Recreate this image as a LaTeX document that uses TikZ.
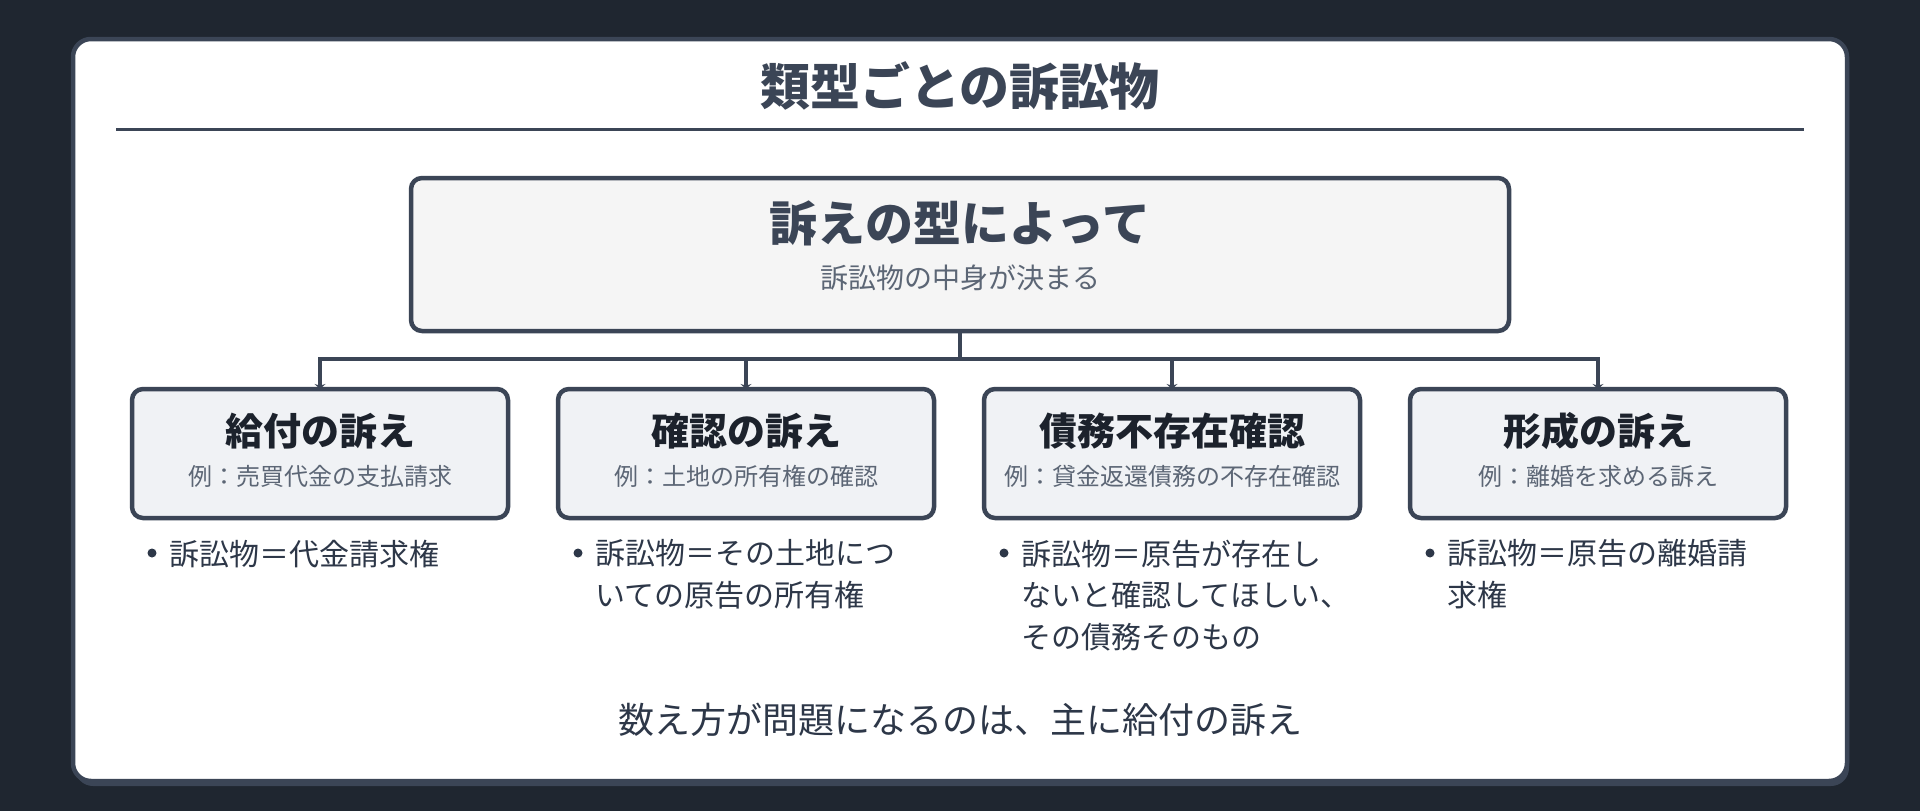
\documentclass[tikz,border=0pt]{standalone}
\usepackage{fontspec}
\setmainfont{Noto Sans CJK JP}
\usepackage{tikz}
\usetikzlibrary{positioning, calc, arrows.meta}
\usepackage{xcolor}
\definecolor{bgdark}{HTML}{1F2630}
\definecolor{frame}{HTML}{3B4556}
\definecolor{ink}{HTML}{2D3748}
\definecolor{inkdark}{HTML}{1C222C}
\definecolor{inksub}{HTML}{5C6675}
\definecolor{rootfill}{HTML}{F5F5F5}
\definecolor{typefill}{HTML}{F0F2F5}

\begin{document}
\begin{tikzpicture} [x=1pt, y=-1pt, node distance = 0pt and 50pt,
    rootbox/.style={draw=frame, line width=4.5pt, fill=rootfill, rounded corners=11pt, minimum width=1098pt, minimum height=153pt, inner sep=0pt, outer sep=0pt},
    typebox/.style={draw=frame, line width=4.5pt, fill=typefill, rounded corners=11pt, minimum width=376pt, minimum height=129pt, inner sep=0pt, outer sep=0pt},
    typetitle/.style={font=\bfseries\fontsize{38}{44}\selectfont, text=inkdark, inner sep=0pt},
    typeexample/.style={font=\fontsize{24}{30}\selectfont, text=inksub, inner sep=0pt},
    note/.style={anchor=north west, inner sep=0pt, align=left, font=\fontsize{30}{41.6}\selectfont, text=ink},
    dot/.style={circle, fill=ink, inner sep=0pt, minimum size=9pt},
    arrow/.style={-{Stealth[length=5pt, width=11pt]}, line width=4pt, draw=frame}]
        \useasboundingbox[fill=bgdark] (0,0) rectangle (1920,811);
        % Card
        \fill[frame, rounded corners=18pt] (75,44) rectangle (1849,786);
        \draw[frame, fill=white, line width=4.5pt, rounded corners=18pt] (73,39) rectangle (1847,781);
        \node[font=\bfseries\fontsize{50}{60}\selectfont, text=frame, inner sep=0pt] (title) at (960,86) {類型ごとの訴訟物};
        \draw[frame, line width=3pt] (116,129) -- (1804,129);

        % Nodes
        \node[rootbox] (root) at (960,254.5) {};
        \node[font=\bfseries\fontsize{48}{56}\selectfont, text=frame, inner sep=0pt] (rootmain) at (960,223) {訴えの型によって};
        \node[font=\fontsize{28}{34}\selectfont, text=inksub, inner sep=0pt] (rootsub) at (960,278) {訴訟物の中身が決まる};

        \node[typebox] (give) at (320,453.5) {};
        \node[typebox, right=of give] (confirm) {};
        \node[typebox, right=of confirm] (debt) {};
        \node[typebox, right=of debt] (form) {};

        \node[typetitle] (givetitle) at ([yshift=22.5pt]give) {給付の訴え};
        \node[typeexample] (giveex) at ([yshift=-22.5pt]give) {例：売買代金の支払請求};
        \node[typetitle] (confirmtitle) at ([yshift=22.5pt]confirm) {確認の訴え};
        \node[typeexample] (confirmex) at ([yshift=-22.5pt]confirm) {例：土地の所有権の確認};
        \node[typetitle] (debttitle) at ([yshift=22.5pt]debt) {債務不存在確認};
        \node[typeexample] (debtex) at ([yshift=-22.5pt]debt) {例：貸金返還債務の不存在確認};
        \node[typetitle] (formtitle) at ([yshift=22.5pt]form) {形成の訴え};
        \node[typeexample] (formex) at ([yshift=-22.5pt]form) {例：離婚を求める訴え};

        % Notes
        \node[dot] (givedot) at ([xshift=20pt, yshift=-35pt]give.south west) {};
        \node[note] (givenote) at ([xshift=37pt, yshift=-21.5pt]give.south west) {訴訟物＝代金請求権};
        \node[dot] (confirmdot) at ([xshift=20pt, yshift=-35pt]confirm.south west) {};
        \node[note] (confirmnote) at ([xshift=37pt, yshift=-21.5pt]confirm.south west) {訴訟物＝その土地につ\\いての原告の所有権};
        \node[dot] (debtdot) at ([xshift=20pt, yshift=-35pt]debt.south west) {};
        \node[note] (debtnote) at ([xshift=37pt, yshift=-21.5pt]debt.south west) {訴訟物＝原告が存在し\\ないと確認してほしい、\\その債務そのもの};
        \node[dot] (formdot) at ([xshift=20pt, yshift=-35pt]form.south west) {};
        \node[note] (formnote) at ([xshift=37pt, yshift=-21.5pt]form.south west) {訴訟物＝原告の離婚請\\求権};

        \node[font=\fontsize{36}{42}\selectfont, text=ink, inner sep=0pt] (summary) at (960,720) {数え方が問題になるのは、主に給付の訴え};

        % Arrows
        \draw[arrow] (root.south) -- ++(0,28) -| (give.north);
        \draw[arrow] (root.south) -- ++(0,28) -| (confirm.north);
        \draw[arrow] (root.south) -- ++(0,28) -| (debt.north);
        \draw[arrow] (root.south) -- ++(0,28) -| (form.north);
    \end{tikzpicture}
\end{document}
